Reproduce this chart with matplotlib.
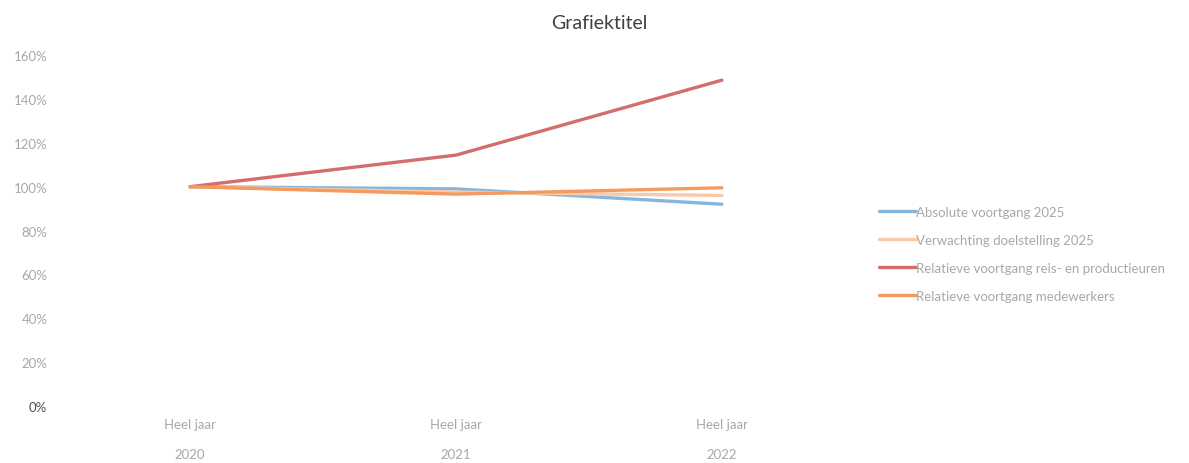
import matplotlib
matplotlib.use("Agg")
import matplotlib.pyplot as plt
from matplotlib.ticker import PercentFormatter

plt.rcParams['font.family'] = ['Lato', 'DejaVu Sans']

# Data
periods = ["Heel jaar\n2020", "Heel jaar\n2021", "Heel jaar\n2022"]
absolute = [1.00, 0.99, 0.92]
verwachting = [1.00, 0.975, 0.96]
reis_productie = [1.00, 1.144, 1.486]
medewerkers = [1.00, 0.966, 0.995]

series = [
    ("Absolute voortgang 2025", absolute, "#86b6dd"),
    ("Verwachting doelstelling 2025", verwachting, "#f9c9a8"),
    ("Relatieve voortgang reis- en productieuren", reis_productie, "#d46d6d"),
    ("Relatieve voortgang medewerkers", medewerkers, "#f39a5f"),
]

text_grey = "#a8a8a8"

fig = plt.figure(figsize=(11.89, 4.64), dpi=100)
ax = fig.add_axes([0.048, 0.123, 0.671, 0.756])

x = list(range(len(periods)))
for label, vals, color in series:
    ax.plot(x, vals, color=color, lw=2.4, label=label, solid_capstyle='round')

ax.set_xlim(-0.5, len(periods) - 0.5)
ax.set_ylim(0, 1.6)
ax.set_yticks([i * 0.2 for i in range(9)])
ax.yaxis.set_major_formatter(PercentFormatter(1.0, decimals=0))
ax.set_xticks(x)
ax.set_xticklabels(periods, linespacing=2.8)

for s in ax.spines.values():
    s.set_visible(False)
ax.tick_params(axis='both', length=0, colors=text_grey, labelsize=9.5)
ax.tick_params(axis='y', pad=7)
ax.tick_params(axis='x', pad=9)
ax.get_yticklabels()[0].set_color("#505050")

fig.suptitle("Grafiektitel", x=0.504, y=0.968, fontsize=14, color="#404040")

leg = fig.legend(loc='center left', bbox_to_anchor=(0.7296, 0.451), frameon=False,
                 fontsize=9.5, labelspacing=1.21, handlelength=2.8, handletextpad=0.0)
for t in leg.get_texts():
    t.set_color(text_grey)

fig.savefig("out.png", dpi=100)
